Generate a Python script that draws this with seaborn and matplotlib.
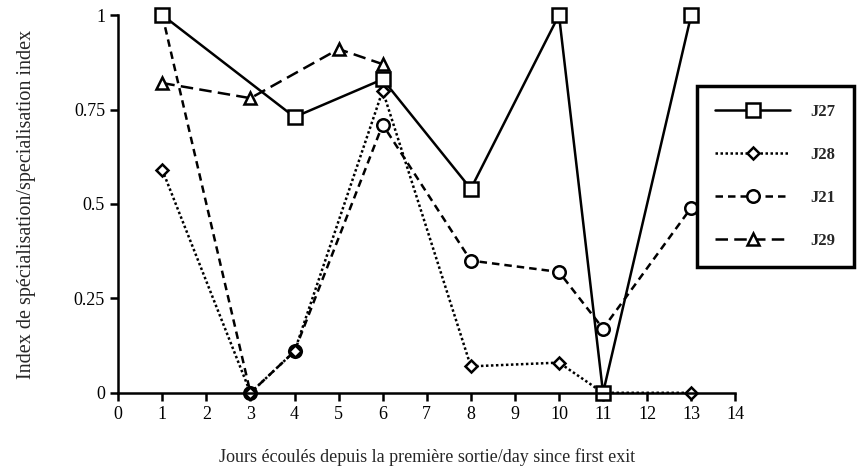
import numpy as np
import pandas as pd
import matplotlib
matplotlib.use('Agg')
import matplotlib.pyplot as plt
import seaborn as sns

# Values
series_names = ['J27', 'J28', 'J21', 'J29']
j27_days = [1, 4, 6, 8, 10, 11, 13]
j27_vals = [1.0, 0.73, 0.83, 0.54, 1.0, 0.0, 1.0]
j28_days = [1, 3, 4, 6, 8, 10, 11, 13]
j28_vals = [0.59, 0.0, 0.11, 0.80, 0.07, 0.08, 0.0, 0.0]
j21_days = [1, 3, 4, 6, 8, 10, 11, 13]
j21_vals = [1.0, 0.0, 0.11, 0.71, 0.35, 0.32, 0.17, 0.49]
j29_days = [1, 3, 5, 6]
j29_vals = [0.82, 0.78, 0.91, 0.87]

x_ticks = list(range(0, 15))
y_ticks = [0, 0.25, 0.5, 0.75, 1]
y_tick_labels = ['0', '0.25', '0.5', '0.75', '1']

frames = []
for name, d, v in [('J27', j27_days, j27_vals), ('J28', j28_days, j28_vals),
                   ('J21', j21_days, j21_vals), ('J29', j29_days, j29_vals)]:
    frames.append(pd.DataFrame({'day': d, 'index': v, 'series': name}))
data = pd.concat(frames, ignore_index=True)

styles = {
    'J27': dict(marker='s', linestyle='-', markersize=10),
    'J28': dict(marker='D', linestyle=(0, (1, 1)), markersize=6.5),
    'J21': dict(marker='o', linestyle=(0, (3, 2)), markersize=9),
    'J29': dict(marker='^', linestyle=(0, (5, 2.5)), markersize=9),
}

sns.set_style('ticks')
plt.rcParams['font.family'] = ['Liberation Serif', 'DejaVu Serif']

fig = plt.figure(figsize=(8.63, 4.71), dpi=100)
ax = fig.add_axes([0.137, 0.166, 0.715, 0.802])

# draw order so that squares/diamonds sit on top like the original
for name in ['J21', 'J29', 'J28', 'J27']:
    sub = data[data['series'] == name]
    sns.lineplot(data=sub, x='day', y='index', ax=ax, color='black',
                 linewidth=1.8, markerfacecolor='white', markeredgecolor='black',
                 markeredgewidth=1.8, label=name, **styles[name])

ax.set_xlim(0, 14)
ax.set_ylim(0, 1)
ax.set_xticks(x_ticks)
ax.set_yticks(y_ticks)
ax.set_yticklabels(y_tick_labels)
for sp in ['top', 'right']:
    ax.spines[sp].set_visible(False)
for sp in ['left', 'bottom']:
    ax.spines[sp].set_linewidth(1.8)
    ax.spines[sp].set_color('black')
ax.tick_params(axis='both', length=6, width=1.8, labelsize=13, colors='black')
for line in ax.get_lines():
    line.set_clip_on(False)

ax.set_xlabel('Jours écoulés depuis la première sortie/day since first exit',
              fontsize=13, labelpad=18)
ax.set_ylabel('Index de spécialisation/specialisation index', fontsize=14.5, labelpad=27)

handles, labels = ax.get_legend_handles_labels()
order = [labels.index(n) for n in series_names]
leg = ax.legend([handles[i] for i in order], [labels[i] for i in order],
                loc='upper left', bbox_to_anchor=(0.8077, 0.818), bbox_transform=fig.transFigure,
                borderaxespad=0, frameon=True, fancybox=False, edgecolor='black', framealpha=1,
                handlelength=4.5, labelspacing=1.62, borderpad=1.1, handletextpad=1.2,
                prop={'weight': 'bold', 'size': 12})
leg.get_frame().set_linewidth(2.5)

fig.savefig('out.png', dpi=100)
